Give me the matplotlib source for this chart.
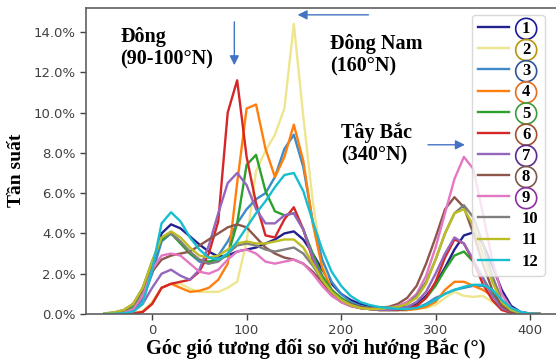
import numpy as np
import matplotlib
matplotlib.use('Agg')
import matplotlib.pyplot as plt
from matplotlib.ticker import FuncFormatter

# wind direction grid (degrees from North)
angle = list(range(-50, 420, 10))

# frequency (%) per month
m1 = [0.0, 0.02, 0.08, 0.25, 0.9,
      2.3, 4.0, 4.45, 4.25, 3.85, 3.45, 3.1, 2.85, 2.9, 3.1,
      3.2, 3.3, 3.5, 3.7, 4.0, 4.1, 3.7, 3.0, 2.2, 1.5,
      1.0, 0.7, 0.5, 0.4, 0.3, 0.3, 0.3, 0.35, 0.5, 0.9,
      1.5, 2.3, 3.2, 3.9, 4.05, 3.5, 2.4, 1.2, 0.4, 0.1,
      0.02, 0.0]
m2 = [0.0, 0.0, 0.02, 0.05, 0.15,
      0.6, 1.3, 1.5, 1.5, 1.25, 1.1, 1.1, 1.1, 1.3, 1.6,
      3.6, 7.1, 8.1, 8.9, 10.2, 14.4, 9.8, 5.6, 2.5, 1.2,
      0.7, 0.45, 0.3, 0.25, 0.2, 0.2, 0.2, 0.2, 0.25, 0.3,
      0.45, 0.8, 1.1, 0.9, 0.85, 0.9, 0.6, 0.3, 0.1, 0.03,
      0.0, 0.0]
m3 = [0.0, 0.01, 0.05, 0.2, 0.7,
      2.0, 3.6, 4.0, 3.6, 3.0, 2.6, 2.5, 2.9, 3.6, 4.5,
      5.2, 5.7, 6.0, 6.8, 8.2, 8.9, 7.3, 4.6, 2.7, 1.6,
      1.0, 0.6, 0.4, 0.3, 0.25, 0.2, 0.2, 0.2, 0.3, 0.5,
      0.8, 1.0, 1.2, 1.3, 1.4, 1.4, 1.2, 0.7, 0.3, 0.1,
      0.02, 0.0]
m4 = [0.0, 0.0, 0.01, 0.03, 0.1,
      0.5, 1.3, 1.5, 1.3, 1.1, 1.15, 1.3, 1.7, 2.5, 6.5,
      10.2, 10.4, 8.2, 6.8, 7.8, 9.4, 7.6, 4.5, 2.3, 1.2,
      0.7, 0.45, 0.3, 0.25, 0.2, 0.2, 0.2, 0.2, 0.25, 0.35,
      0.6, 1.2, 1.6, 1.6, 1.4, 1.2, 0.9, 0.5, 0.2, 0.05,
      0.0, 0.0]
m5 = [0.01, 0.03, 0.1, 0.35, 1.2,
      2.6, 3.7, 4.0, 3.5, 3.0, 2.7, 2.6, 2.7, 2.9, 4.5,
      7.4, 7.9, 6.1, 5.1, 4.9, 5.0, 4.2, 3.0, 1.9, 1.2,
      0.8, 0.5, 0.35, 0.25, 0.2, 0.2, 0.2, 0.25, 0.4, 0.8,
      1.4, 2.2, 2.9, 3.1, 2.6, 1.8, 1.0, 0.4, 0.1, 0.03,
      0.0, 0.0]
m6 = [0.0, 0.0, 0.01, 0.03, 0.1,
      0.5, 1.3, 1.5, 1.6, 1.7, 2.1, 3.0, 4.6, 10.0, 11.6,
      7.8, 5.5, 3.9, 3.8, 4.7, 5.3, 4.2, 2.7, 1.6, 1.0,
      0.6, 0.4, 0.3, 0.25, 0.2, 0.2, 0.2, 0.25, 0.4, 0.8,
      1.6, 2.8, 3.7, 3.5, 2.6, 1.5, 0.7, 0.2, 0.05, 0.0,
      0.0, 0.0]
m7 = [0.0, 0.01, 0.04, 0.15, 0.5,
      1.3, 2.0, 2.2, 1.9, 1.7, 2.2, 3.4, 5.0, 6.5, 7.0,
      6.4, 5.2, 4.5, 4.5, 4.9, 5.0, 4.2, 2.8, 1.7, 1.0,
      0.6, 0.4, 0.3, 0.25, 0.2, 0.2, 0.25, 0.35, 0.6, 1.1,
      2.0, 3.0, 3.8, 3.5, 2.7, 1.8, 0.9, 0.3, 0.1, 0.02,
      0.0, 0.0]
m8 = [0.02, 0.05, 0.15, 0.5, 1.2,
      2.1, 2.7, 2.9, 3.0, 3.1, 3.4, 3.7, 4.0, 4.3, 4.45,
      4.3, 3.8, 3.3, 3.0, 2.8, 2.7, 2.5, 2.1, 1.6, 1.1,
      0.7, 0.5, 0.35, 0.3, 0.3, 0.35, 0.5, 0.8, 1.4, 2.5,
      3.8, 5.2, 5.8, 5.3, 4.0, 2.5, 1.2, 0.4, 0.1, 0.02,
      0.0, 0.0]
m9 = [0.0, 0.02, 0.06, 0.25, 0.9,
      2.2, 2.9, 3.0, 2.9, 2.5, 2.1, 2.0, 2.2, 2.7, 3.1,
      3.2, 3.0, 2.6, 2.5, 2.6, 2.7, 2.5, 2.0, 1.4, 0.9,
      0.6, 0.4, 0.3, 0.25, 0.25, 0.3, 0.4, 0.6, 1.0, 1.9,
      3.3, 5.0, 6.7, 7.8, 7.2, 5.0, 2.7, 1.0, 0.3, 0.08,
      0.02, 0.0]
m10 = [0.03, 0.08, 0.2, 0.5, 1.3,
       2.6, 3.8, 4.0, 3.6, 3.1, 2.7, 2.5, 2.6, 3.0, 3.4,
       3.5, 3.4, 3.2, 3.1, 3.2, 3.3, 3.0, 2.4, 1.7, 1.1,
       0.7, 0.45, 0.3, 0.25, 0.25, 0.3, 0.35, 0.5, 0.9, 1.6,
       2.7, 4.0, 5.0, 5.4, 4.8, 3.5, 1.9, 0.7, 0.2, 0.05,
       0.0, 0.0]
m11 = [0.03, 0.08, 0.2, 0.5, 1.3,
       2.6, 3.8, 4.1, 3.8, 3.3, 2.9, 2.8, 2.9, 3.2, 3.5,
       3.6, 3.5, 3.5, 3.6, 3.7, 3.7, 3.3, 2.5, 1.7, 1.1,
       0.7, 0.45, 0.3, 0.25, 0.25, 0.3, 0.35, 0.5, 0.8, 1.5,
       2.7, 4.0, 5.0, 5.2, 4.4, 3.0, 1.6, 0.6, 0.2, 0.05,
       0.0, 0.0]
m12 = [0.0, 0.01, 0.04, 0.12, 0.5,
       2.2, 4.5, 5.05, 4.6, 3.8, 3.2, 2.8, 2.7, 3.0, 3.6,
       4.3, 5.0, 5.6, 6.3, 6.9, 7.0, 6.1, 4.6, 3.2, 2.1,
       1.4, 0.9, 0.6, 0.45, 0.35, 0.3, 0.25, 0.25, 0.3, 0.45,
       0.7, 1.0, 1.2, 1.35, 1.45, 1.45, 1.2, 0.7, 0.3, 0.1,
       0.02, 0.0]

months = [m1, m2, m3, m4, m5, m6, m7, m8, m9, m10, m11, m12]
labels = ['1', '2', '3', '4', '5', '6', '7', '8', '9', '10', '11', '12']

line_colors = ['#22228f', '#eee68e', '#3d8ac8', '#ff7f0e', '#2ca02c', '#d62728',
               '#9467bd', '#8c564b', '#e377c2', '#7f7f7f', '#bcbd22', '#17becf']
# circles drawn round labels 1-9
circle_colors = ['#1a1a9a', '#b8960b', '#2f5597', '#e07020', '#3c9a3c',
                 '#a0522d', '#5b2c8f', '#7a5a4a', '#8b2fa0']

serif = 'Liberation Serif'

fig = plt.figure(figsize=(5.56, 3.62), dpi=100)
ax = fig.add_axes([86 / 556, 1 - 314 / 362, 1 - 86 / 556, 306 / 362])

for vals, lab, col in zip(months, labels, line_colors):
    ax.plot(angle, vals, color=col, lw=1.7, label=lab)

ax.set_xlim(-70, 427.5)
ax.set_ylim(0, 15.19)
ax.set_xticks([0, 100, 200, 300, 400])
ax.set_yticks(np.arange(0, 15, 2))
ax.yaxis.set_major_formatter(FuncFormatter(lambda v, p: '%.1f%%' % v))

ax.spines['right'].set_visible(False)
for s in ['top', 'left', 'bottom']:
    ax.spines[s].set_color('#606060')
    ax.spines[s].set_linewidth(1.2)
ax.tick_params(colors='#404040', labelsize=9.5, length=4, width=1.0)

ax.set_xlabel('Góc gió tương đối so với hướng Bắc (°)', family=serif,
              fontweight='bold', fontsize=14.8)
ax.xaxis.set_label_coords(0.489, -0.08)
ax.set_ylabel('Tần suất', family=serif, fontweight='bold', fontsize=14)
ax.yaxis.set_label_coords(-0.13, 0.47)

arrow_col = '#4472c4'
ann = dict(family=serif, fontweight='bold', fontsize=14.5, va='top',
           ha='left', linespacing=1.15)
ax.text(-34, 14.25, 'Đông\n(90-100°N)', **ann)
ax.text(188, 13.9, 'Đông Nam\n(160°N)', **ann)
ax.text(200, 9.5, 'Tây Bắc\n(340°N)', **ann)

arr = dict(arrowstyle='-|>', color=arrow_col, lw=1.0, mutation_scale=14,
           shrinkA=0, shrinkB=0)
ax.annotate('', xy=(87, 12.35), xytext=(87, 14.5), arrowprops=arr)
ax.annotate('', xy=(154, 14.85), xytext=(229, 14.85), arrowprops=arr)
ax.annotate('', xy=(331, 8.4), xytext=(292, 8.4), arrowprops=arr)

leg = fig.legend(loc='upper left', bbox_to_anchor=(472 / 556, 1 - 15 / 362),
                 prop={'family': serif, 'weight': 'bold', 'size': 12},
                 handlelength=1.85, handletextpad=0.8, labelspacing=0.31,
                 borderpad=0.35, borderaxespad=0, frameon=True, fancybox=True)
leg.get_frame().set_edgecolor('#d0d0d0')
leg.get_frame().set_linewidth(1.0)
for i, t in enumerate(leg.get_texts()):
    if i < 9:
        t.set_bbox(dict(boxstyle='circle,pad=0.15', fc='none',
                        ec=circle_colors[i], lw=1.2))

fig.savefig('out.png', dpi=100)
